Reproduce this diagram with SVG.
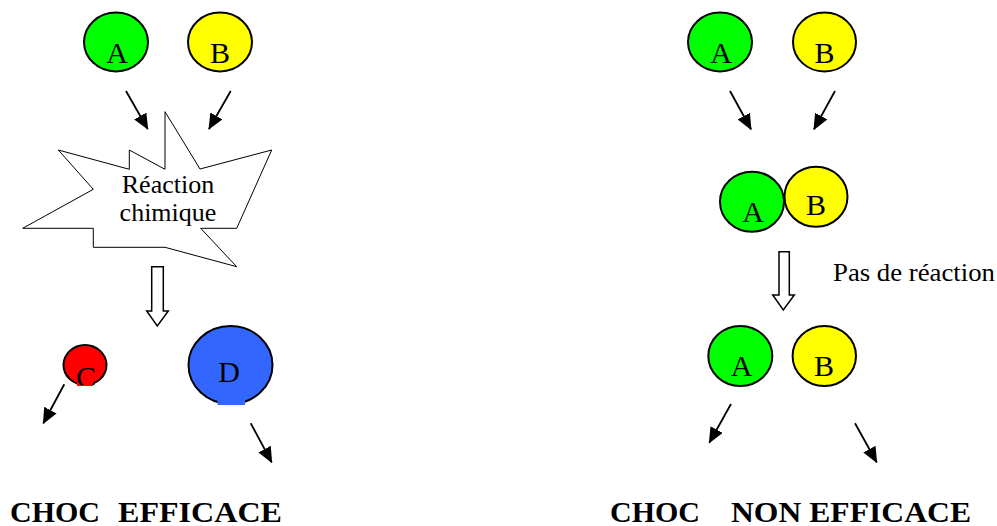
<svg xmlns="http://www.w3.org/2000/svg" width="997" height="526" viewBox="0 0 997 526">
  <style>
    .bg { fill: #ffffff; }
    .mol { stroke: #000000; stroke-width: 2; }
    .a { fill: #00ff00; }
    .b { fill: #ffff00; }
    .c { fill: #ff0000; }
    .d { fill: #3366ff; }
    .arr { stroke: #000000; stroke-width: 1.8; fill: none; marker-end: url(#head); }
    .hollow { fill: #ffffff; stroke: #000000; stroke-width: 1.5; }
    .burst { fill: #ffffff; stroke: #000000; stroke-width: 1; }
  </style>
  <defs>
    <marker id="head" markerUnits="userSpaceOnUse" markerWidth="16" markerHeight="14" viewBox="0 0 16 14" refX="15" refY="7" orient="auto">
      <path d="M0,0 L16,7 L0,14 z" fill="#000000"/>
    </marker>
    <clipPath id="cclip">
      <rect x="60" y="340" width="50" height="45"/>
    </clipPath>
  </defs>
  <rect class="bg" x="0" y="0" width="997" height="526"/>

  <!-- Left: effective collision -->
  <g id="left-A">
    <ellipse class="mol a" cx="116" cy="42" rx="32" ry="29.5"/>
    <text x="117" y="63" font-family="Liberation Serif, serif" font-size="30" text-anchor="middle">A</text>
  </g>
  <g id="left-B">
    <ellipse class="mol b" cx="220" cy="42" rx="32" ry="29.5"/>
    <text x="220" y="63" font-family="Liberation Serif, serif" font-size="30" text-anchor="middle">B</text>
  </g>
  <g id="reaction">
    <polygon class="burst" points="165,111.7 200,169 271.7,150 236.7,228.3 200.7,228.3 236.7,266.7 165,247.3 93.3,247.3 93.3,228.3 22.7,228.3 93.3,189.3 58.3,150 129.3,169.3 129.3,150 165,169.3"/>
    <text x="168" y="193" font-family="Liberation Serif, serif" font-size="26" text-anchor="middle">Réaction</text>
    <text x="168" y="221" font-family="Liberation Serif, serif" font-size="26" text-anchor="middle">chimique</text>
  </g>
  <g id="left-C">
    <ellipse class="mol c" cx="85" cy="365" rx="21.5" ry="20"/>
    <rect class="c" x="77" y="376" width="16" height="10"/>
    <text x="86" y="387" font-family="Liberation Serif, serif" font-size="30" text-anchor="middle" clip-path="url(#cclip)">C</text>
  </g>
  <g id="left-D">
    <ellipse class="mol d" cx="230.5" cy="365" rx="42" ry="39"/>
    <rect class="d" x="217.5" y="398" width="27.5" height="7"/>
    <text x="229" y="382" font-family="Liberation Serif, serif" font-size="30" text-anchor="middle">D</text>
  </g>
  <text y="521.5" font-family="Liberation Serif, serif" font-size="30" font-weight="bold"><tspan x="10">CHOC</tspan><tspan x="118" textLength="164" lengthAdjust="spacingAndGlyphs">EFFICACE</tspan></text>

  <!-- Right: non-effective collision -->
  <g id="right-A">
    <ellipse class="mol a" cx="720" cy="42" rx="32" ry="29.5"/>
    <text x="721" y="63" font-family="Liberation Serif, serif" font-size="30" text-anchor="middle">A</text>
  </g>
  <g id="right-B">
    <ellipse class="mol b" cx="824.5" cy="42" rx="31.5" ry="29.5"/>
    <text x="824.5" y="63" font-family="Liberation Serif, serif" font-size="30" text-anchor="middle">B</text>
  </g>
  <g id="pair-A">
    <ellipse class="mol a" cx="752" cy="201.7" rx="32" ry="30"/>
    <text x="753" y="221.5" font-family="Liberation Serif, serif" font-size="30" text-anchor="middle">A</text>
  </g>
  <g id="pair-B">
    <ellipse class="mol b" cx="816" cy="196.7" rx="31.5" ry="30"/>
    <text x="816" y="215" font-family="Liberation Serif, serif" font-size="30" text-anchor="middle">B</text>
  </g>
  <text x="833" y="280.5" font-family="Liberation Serif, serif" font-size="26" textLength="162" lengthAdjust="spacingAndGlyphs">Pas de réaction</text>
  <g id="after-A">
    <ellipse class="mol a" cx="740.3" cy="356" rx="32" ry="30"/>
    <text x="741.5" y="376" font-family="Liberation Serif, serif" font-size="30" text-anchor="middle">A</text>
  </g>
  <g id="after-B">
    <ellipse class="mol b" cx="824.3" cy="356" rx="31.7" ry="30"/>
    <text x="824" y="376" font-family="Liberation Serif, serif" font-size="30" text-anchor="middle">B</text>
  </g>
  <text y="521.5" font-family="Liberation Serif, serif" font-size="30" font-weight="bold"><tspan x="610">CHOC</tspan><tspan x="731" textLength="240" lengthAdjust="spacingAndGlyphs">NON EFFICACE</tspan></text>

  <!-- Connectors -->
  <g id="connectors">
    <line class="arr" x1="126" y1="91" x2="147.7" y2="129"/>
    <line class="arr" x1="230.7" y1="91" x2="209" y2="129"/>
    <polygon class="hollow" points="151.7,266.7 163.3,266.7 163.3,311 168.3,311 157.3,326 146.7,311 151.7,311"/>
    <line class="arr" x1="64.3" y1="384.3" x2="43.3" y2="423.3"/>
    <line class="arr" x1="250.7" y1="423.3" x2="271.7" y2="462.3"/>

    <line class="arr" x1="730" y1="91" x2="751" y2="129.3"/>
    <line class="arr" x1="835" y1="91" x2="814" y2="129.3"/>
    <polygon class="hollow" points="779,251.7 789.3,251.7 789.3,295 794.3,295 783.3,310 772.7,295 779,295"/>
    <line class="arr" x1="731" y1="404" x2="709.3" y2="442.7"/>
    <line class="arr" x1="855" y1="423.3" x2="876.7" y2="462.3"/>
  </g>
</svg>
